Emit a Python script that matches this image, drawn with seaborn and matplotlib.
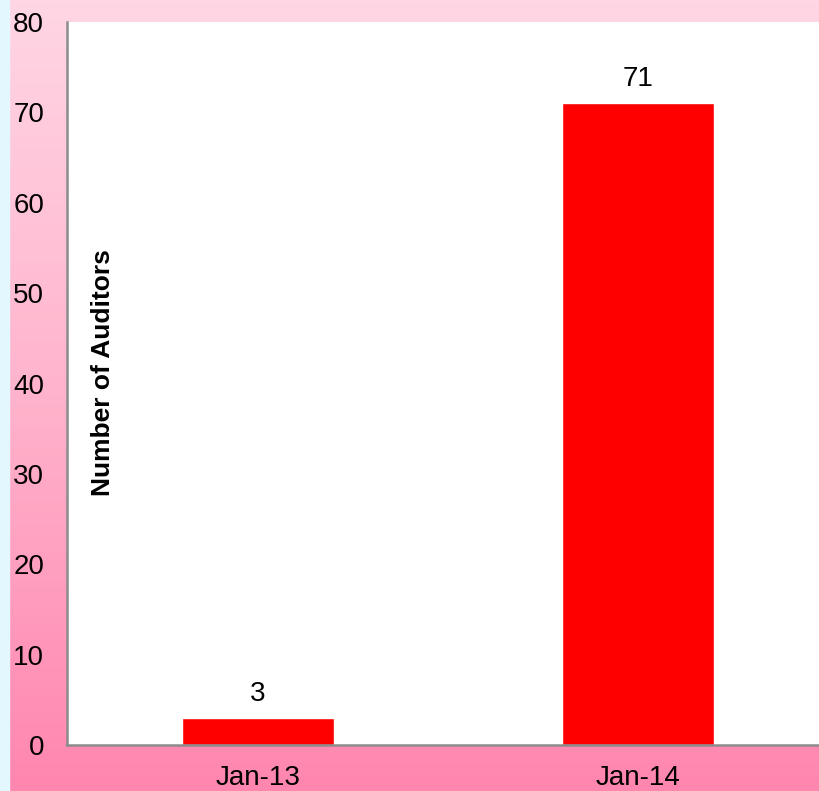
import numpy as np
import pandas as pd
import matplotlib
matplotlib.use('Agg')
import matplotlib.pyplot as plt
import seaborn as sns
from matplotlib.colors import LinearSegmentedColormap

# datos del gráfico
periods = ['Jan-13', 'Jan-14']
auditors = [3, 71]

sns.set_theme(style='white')
plt.rcParams['font.family'] = ['Liberation Sans', 'DejaVu Sans']
plt.rcParams['text.color'] = 'black'

df = pd.DataFrame({'period': periods, 'auditors': auditors})

fig = plt.figure(figsize=(8.2, 7.91), dpi=100)

# fondo degradado rosa con franja celeste a la izquierda
bg = fig.add_axes([0, 0, 1, 1], zorder=0)
grad = LinearSegmentedColormap.from_list('rosa', ['#ffd6e4', '#ffb3cc', '#ff86af'])
bg.imshow(np.linspace(0, 1, 256).reshape(-1, 1), cmap=grad, aspect='auto',
          extent=[0, 1, 0, 1], origin='upper')
bg.axvspan(0, 9 / 820, color='#e2f8fe')
bg.set_xlim(0, 1)
bg.set_ylim(0, 1)
bg.axis('off')

ax = fig.add_axes([67 / 820, 46 / 791, 753 / 820, 723 / 791], zorder=1)
sns.barplot(data=df, x='period', y='auditors', color='#ff0000', width=0.4,
            saturation=1, ax=ax)

ax.set_xlim(-0.503, 1.479)
ax.set_ylim(0, 80)
ax.set_yticks(range(0, 81, 10))
ax.set_facecolor('white')

for sp in ['top', 'right']:
    ax.spines[sp].set_visible(False)
for sp in ['left', 'bottom']:
    ax.spines[sp].set_color('#8c8c8c')
    ax.spines[sp].set_linewidth(1.8)

ax.tick_params(axis='both', length=0, labelsize=20, colors='black')
ax.tick_params(axis='y', pad=16.5)
ax.tick_params(axis='x', pad=14.5)
ax.set_xlabel('')
ax.set_ylabel('')

# etiqueta del eje dentro del área
ax.text(0.048, 0.515, 'Number of Auditors', transform=ax.transAxes, rotation=90,
        ha='center', va='center', fontsize=19, fontweight='bold', color='black')

# valores sobre las barras
for i, v in enumerate(auditors):
    ax.annotate(str(v), (i, v), xytext=(0, 8), textcoords='offset points',
                ha='center', va='bottom', fontsize=20, color='black')

fig.savefig('out.png', dpi=100)
